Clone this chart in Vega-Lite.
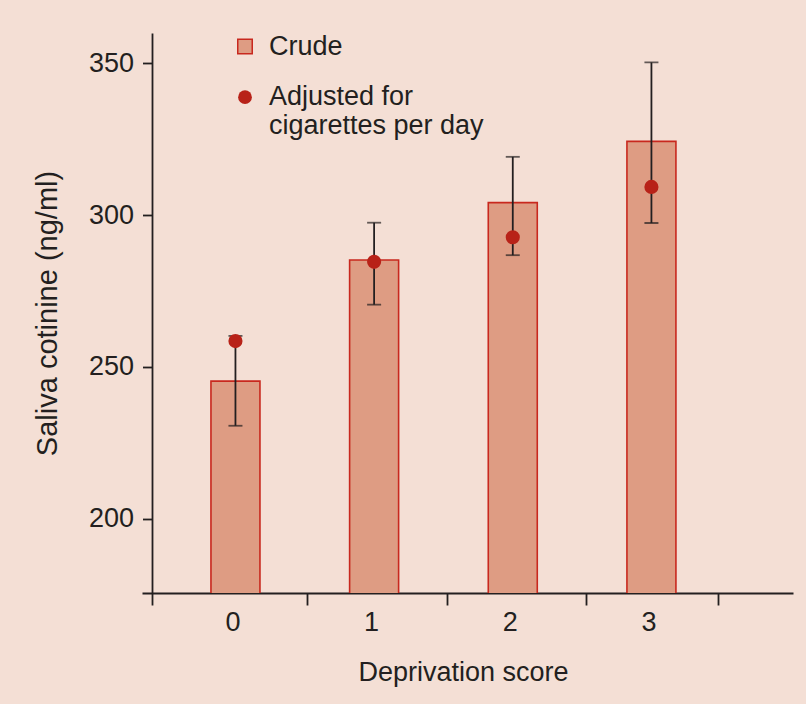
{
  "$schema": "https://vega.github.io/schema/vega-lite/v6.json",
  "autosize": "none",
  "width": 651,
  "height": 560,
  "padding": {"left": 142, "top": 33, "right": 13, "bottom": 111},
  "background": "#f4dfd5",
  "config": {
    "view": {"stroke": null},
    "font": "Liberation Sans",
    "axis": {"grid": false, "domainColor": "#231f20", "tickColor": "#231f20", "labelColor": "#231f20", "titleColor": "#231f20", "domainWidth": 1.8, "tickWidth": 1.8, "labelFont": "Liberation Sans", "titleFont": "Liberation Sans", "titleFontWeight": "normal"}
  },
  "data": {
    "values": [
      {"score": 0, "crude": 245.3, "adjusted": 258.5, "lo": 230.6, "hi": 260.2},
      {"score": 1, "crude": 285.2, "adjusted": 284.6, "lo": 270.5, "hi": 297.5},
      {"score": 2, "crude": 304.1, "adjusted": 292.7, "lo": 286.8, "hi": 319.2},
      {"score": 3, "crude": 324.3, "adjusted": 309.3, "lo": 297.4, "hi": 350.3}
    ]
  },
  "resolve": {"axis": {"x": "independent"}},
  "layer": [
    {
      "mark": {"type": "bar", "width": 49, "stroke": "#c8281e", "strokeWidth": 1.6, "clip": true},
      "encoding": {
        "x": {"field": "score", "type": "quantitative",
          "scale": {"domain": [-0.674, 4.021], "nice": false, "zero": false, "padding": 0},
          "axis": {"orient": "bottom", "values": [-0.602, 0.513, 1.525, 2.525, 3.477], "labels": false, "tickSize": 12, "title": null, "domain": true}},
        "y": {"field": "crude", "type": "quantitative",
          "scale": {"domain": [175.5, 360], "nice": false, "zero": false, "padding": 0},
          "axis": {"offset": -10, "values": [200, 250, 300, 350], "tickSize": 9.5, "labelPadding": 9, "labelFontSize": 27, "title": "Saliva cotinine (ng/ml)", "titleFontSize": 29, "titlePadding": 26}},
        "fill": {"datum": "Crude", "type": "nominal",
          "scale": {"domain": ["Crude"], "range": ["#de9c83"]},
          "legend": {"title": null, "orient": "none", "legendX": 89.5, "legendY": 0, "padding": 0, "symbolType": "square", "symbolSize": 210, "symbolStrokeColor": "#c8281e", "symbolStrokeWidth": 1.5, "labelFontSize": 27, "labelColor": "#231f20", "labelOffset": 10.5, "labelLimit": 400}}
      }
    },
    {
      "mark": {"type": "errorbar", "ticks": {"size": 14, "thickness": 1.8}, "rule": {"strokeWidth": 1.8}, "color": "#231f20"},
      "encoding": {
        "x": {"field": "score", "type": "quantitative",
          "axis": {"orient": "bottom", "values": [0, 1, 2, 3], "ticks": false, "domain": false, "labelFontSize": 27, "labelPadding": 16, "labelOffset": -3, "title": "Deprivation score", "titleFontSize": 27, "titlePadding": 24, "titleX": 321}},
        "y": {"field": "lo", "type": "quantitative", "title": "Saliva cotinine (ng/ml)"},
        "y2": {"field": "hi"}
      }
    },
    {
      "mark": {"type": "point", "filled": true, "size": 200, "color": "#b82218", "opacity": 1},
      "encoding": {
        "x": {"field": "score", "type": "quantitative", "axis": null},
        "y": {"field": "adjusted", "type": "quantitative", "title": "Saliva cotinine (ng/ml)"},
        "shape": {"datum": "Adjusted for cigarettes per day", "type": "nominal",
          "scale": {"range": ["circle"]},
          "legend": {"title": null, "orient": "none", "legendX": 89.5, "legendY": 50.7, "padding": 0, "symbolSize": 190, "symbolFillColor": "#b82218", "symbolStrokeColor": "#b82218", "symbolOpacity": 1, "labelFontSize": 27, "labelColor": "#231f20", "labelOffset": 10.5, "labelLimit": 400, "labelBaseline": "middle", "labelExpr": "['Adjusted for', 'cigarettes per day']"}}
      }
    }
  ]
}
